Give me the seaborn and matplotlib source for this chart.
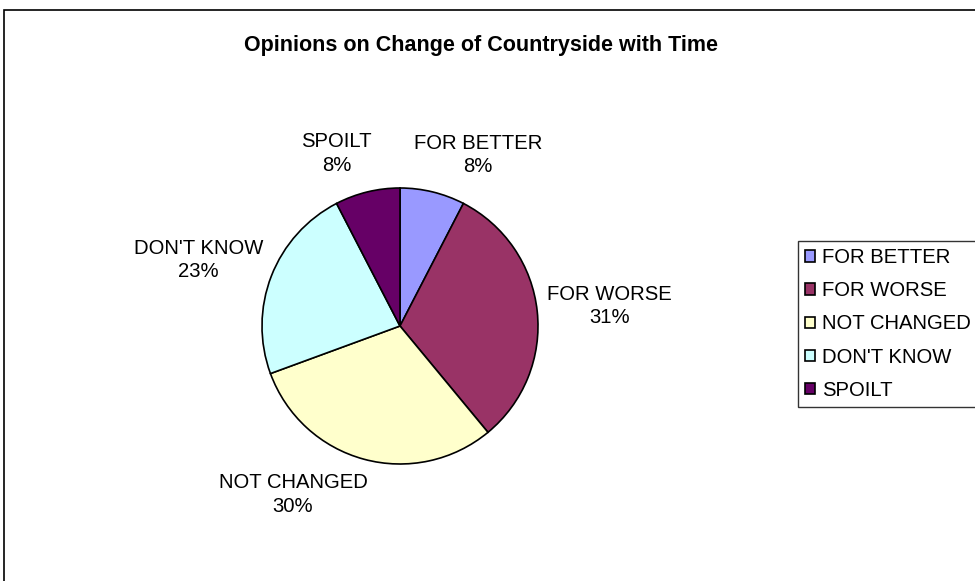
import matplotlib
matplotlib.use("Agg")
import matplotlib.pyplot as plt
import seaborn as sns
from matplotlib.patches import Rectangle

categories = ["FOR BETTER", "FOR WORSE", "NOT CHANGED", "DON'T KNOW", "SPOILT"]
values = [7.6, 31.4, 30.4, 23.0, 7.6]
colors = ["#9999FF", "#993366", "#FFFFCC", "#CCFFFF", "#660066"]
title = "Opinions on Change of Countryside with Time"

# label layout (data units, pie radius = 1)
label_pos = [(0.565, 1.24), (1.52, 0.145), (-0.775, -1.22), (-1.46, 0.48), (-0.46, 1.25)]

sns.set_theme(style="white")
plt.rcParams["font.family"] = ["Liberation Sans", "DejaVu Sans"]
plt.rcParams["text.color"] = "black"

W, H = 975, 581
fig = plt.figure(figsize=(W / 100, H / 100), dpi=100)
fig.patch.set_facecolor("white")

cx, cy, r = 400, 326, 138
ax = fig.add_axes([(cx - 2 * r) / W, (H - cy - 2 * r) / H, 4 * r / W, 4 * r / H])
labels = [f"{c}\n{v:.0f}%" for c, v in zip(categories, values)]
wedges, texts = ax.pie(values, labels=labels, colors=colors, startangle=90,
                       counterclock=False, radius=1,
                       wedgeprops=dict(edgecolor="black", linewidth=1.2),
                       textprops=dict(fontsize=14.6, color="black"))
for t, p in zip(texts, label_pos):
    t.set_position(p)
    t.set_horizontalalignment("center")
    t.set_verticalalignment("center")
    t.set_multialignment("center")
    t.set_linespacing(1.3)
ax.set_xlim(-2, 2)
ax.set_ylim(-2, 2)
ax.set_aspect("auto")
ax.axis("off")

fig.text(244 / W, 1 - 46 / H, title, ha="left", va="center",
         fontsize=15.5, fontweight="bold", color="black")

leg = fig.legend(wedges, categories, loc="upper left",
                 bbox_to_anchor=(798 / W, 1 - 241 / H),
                 frameon=True, fancybox=False, fontsize=14.6, labelcolor="black",
                 handlelength=0.5, handleheight=0.5, handletextpad=0.35,
                 labelspacing=0.7, borderpad=0.35, borderaxespad=0)
leg.get_frame().set_edgecolor("black")
leg.get_frame().set_linewidth(1.0)

fig.patches.append(Rectangle((3.5 / W, -0.1), 1.2, 1 - 9.5 / H + 0.1,
                             transform=fig.transFigure, fill=False,
                             edgecolor="black", linewidth=1.2))

fig.savefig("out.png", dpi=100)
